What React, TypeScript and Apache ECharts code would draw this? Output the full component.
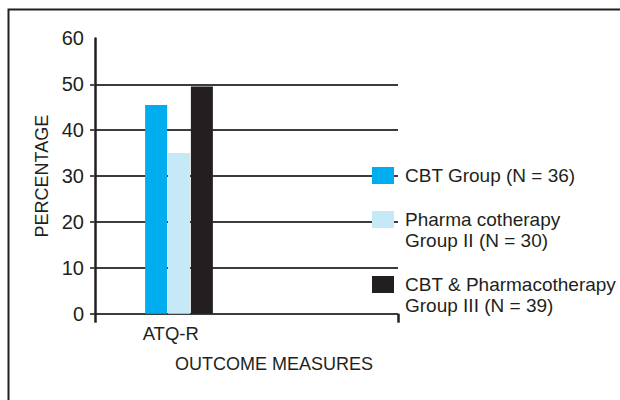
import React, { useEffect, useRef } from "react";
import * as echarts from "echarts";

const categories = ["ATQ-R", ""];
const seriesNames = [
  "CBT Group (N = 36)",
  "Pharma cotherapy Group II (N = 30)",
  "CBT & Pharmacotherapy Group III (N = 39)",
];
const legendLines = [
  ["CBT Group (N = 36)"],
  ["Pharma cotherapy", "Group II (N = 30)"],
  ["CBT & Pharmacotherapy", "Group III (N = 39)"],
];
const seriesValues = [
  [45.5, null],
  [35, null],
  [49.5, null],
];
const colors = ["#00adef", "#c6e9f8", "#231f20"];
const yTicks = [0, 10, 20, 30, 40, 50];

const FONT = '"Liberation Sans", Arial, Helvetica, sans-serif';
const INK = "#231f20";
const GRID_COLOR = "#3c3c3c";

export default function App() {
  const ref = useRef<HTMLDivElement>(null);
  useEffect(() => {
    if (!ref.current) return;
    const chart = echarts.init(ref.current, null, { renderer: "svg" });
    const legendTops = [167, 211, 276];
    const graphic: any[] = [
      {
        type: "rect",
        shape: { x: 8.5, y: 9.5, width: 700, height: 500 },
        style: { fill: "none", stroke: INK, lineWidth: 2 },
        z: 100,
      },
    ];
    seriesNames.forEach((name, i) => {
      graphic.push({
        type: "rect",
        shape: { x: 372, y: legendTops[i], width: 22, height: 17 },
        style: { fill: colors[i] },
        z: 100,
      });
      graphic.push({
        type: "text",
        x: 405,
        y: legendTops[i] + 8.5 - 10.5,
        style: {
          text: legendLines[i].join("\n"),
          font: `19px ${FONT}`,
          fill: INK,
          lineHeight: 21,
          verticalAlign: "top",
          align: "left",
        },
        z: 100,
      });
    });

    const option: any = {
      animation: false,
      textStyle: { fontFamily: FONT },
      grid: [
        { left: 95, right: 222, top: 38.4, bottom: 86.3, containLabel: false, outerBoundsMode: "none" },
        { left: 95, right: 189, top: 38.4, bottom: 86.3, containLabel: false, outerBoundsMode: "none" },
      ],
      xAxis: [
        {
          gridIndex: 0,
          type: "category",
          data: categories,
          axisLine: { show: false },
          axisTick: {
            show: true,
            interval: (i: number) => i === 0,
            length: 9,
            lineStyle: { color: INK, width: 2.5 },
          },
          axisLabel: { fontSize: 18.5, color: INK, margin: 10, fontFamily: FONT },
          splitLine: { show: false },
          name: "OUTCOME MEASURES",
          nameLocation: "middle",
          nameGap: 41,
          nameTextStyle: { fontSize: 18, color: INK, fontFamily: FONT, padding: [0, 0, 0, 55] },
        },
        {
          gridIndex: 1,
          type: "category",
          data: categories,
          show: false,
        },
      ],
      yAxis: [
        {
          gridIndex: 0,
          type: "value",
          min: 0,
          max: 60,
          interval: 10,
          axisLine: { show: true, lineStyle: { color: INK, width: 2.5 } },
          axisTick: {
            show: true,
            length: 5,
            customValues: yTicks,
            lineStyle: { color: GRID_COLOR, width: 1.8 },
          },
          axisLabel: { fontSize: 20, color: INK, margin: 11, fontFamily: FONT },
          splitLine: {
            show: true,
            lineStyle: {
              color: [GRID_COLOR, GRID_COLOR, GRID_COLOR, GRID_COLOR, GRID_COLOR, GRID_COLOR, "rgba(0,0,0,0)"],
              width: 1.8,
            },
          },
          name: "PERCENTAGE",
          nameLocation: "middle",
          nameGap: 44,
          nameRotate: 90,
          nameTextStyle: { fontSize: 18, color: INK, fontFamily: FONT },
        },
        {
          gridIndex: 1,
          type: "value",
          min: 0,
          max: 60,
          interval: 10,
          show: false,
        },
      ],
      series: seriesNames.map((name, i) => ({
        name,
        type: "bar",
        xAxisIndex: 1,
        yAxisIndex: 1,
        barWidth: 22,
        barGap: "4%",
        data: seriesValues[i],
        itemStyle: { color: colors[i] },
        z: 3,
      })),
      graphic,
    };
    chart.setOption(option);
    return () => chart.dispose();
  }, []);
  return (
    <div
      ref={ref}
      style={{ position: "fixed", left: 0, top: 0, width: 620, height: 400, background: "#fff" }}
    />
  );
}
